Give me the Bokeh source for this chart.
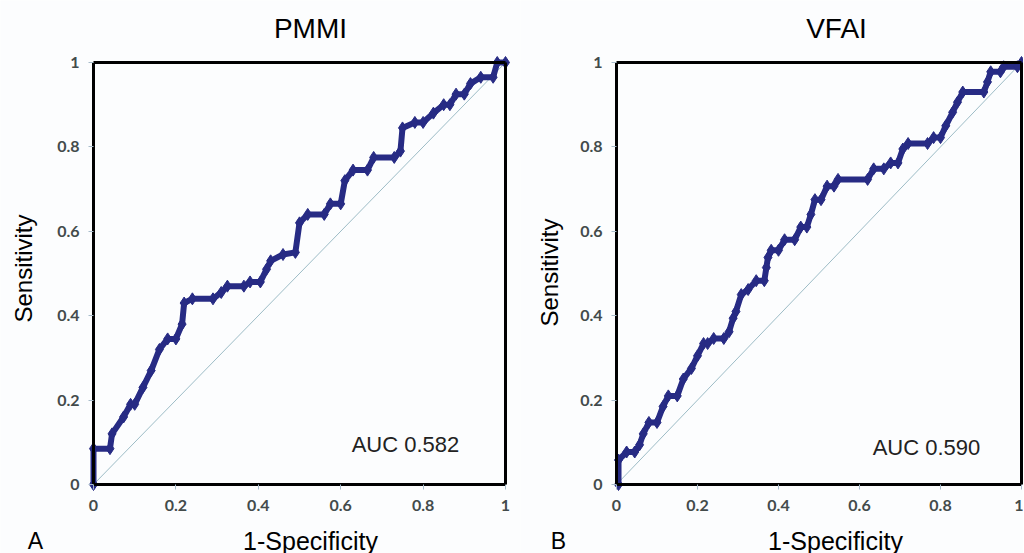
from bokeh.plotting import figure
from bokeh.models import Range1d, FixedTicker, Label, LinearAxis
from bokeh.layouts import row
from bokeh.embed import file_html
from bokeh.resources import INLINE

# ---- data ----
pmmi_fpr = [0, 0, 0.04, 0.045, 0.073, 0.09, 0.10, 0.12, 0.14, 0.16,
            0.18, 0.20, 0.215, 0.22, 0.24, 0.29, 0.31, 0.325, 0.365, 0.38,
            0.405, 0.42, 0.43, 0.46, 0.49, 0.5, 0.52, 0.56, 0.575, 0.60,
            0.61, 0.63, 0.665, 0.68, 0.73, 0.745, 0.75, 0.78, 0.80, 0.825,
            0.85, 0.865, 0.88, 0.90, 0.915, 0.94, 0.97, 0.98, 1.0]
pmmi_tpr = [0, 0.085, 0.085, 0.12, 0.16, 0.19, 0.19, 0.23, 0.27, 0.32,
            0.345, 0.345, 0.38, 0.43, 0.44, 0.44, 0.455, 0.47, 0.47, 0.48,
            0.48, 0.51, 0.53, 0.545, 0.55, 0.62, 0.64, 0.64, 0.665, 0.665,
            0.72, 0.745, 0.745, 0.775, 0.775, 0.79, 0.845, 0.858, 0.858, 0.88,
            0.90, 0.90, 0.925, 0.925, 0.95, 0.965, 0.965, 1.0, 1.0]

vfai_fpr = [0.005, 0.005, 0.025, 0.045, 0.057, 0.066, 0.08, 0.10, 0.115, 0.128,
            0.15, 0.165, 0.185, 0.20, 0.215, 0.225, 0.24, 0.265, 0.278, 0.288,
            0.295, 0.308, 0.325, 0.345, 0.365, 0.37, 0.374, 0.382, 0.40, 0.415,
            0.44, 0.455, 0.47, 0.48, 0.49, 0.505, 0.52, 0.537, 0.547, 0.62,
            0.635, 0.66, 0.677, 0.695, 0.707, 0.72, 0.768, 0.783, 0.80, 0.813,
            0.83, 0.842, 0.855, 0.907, 0.916, 0.924, 0.948, 0.956, 0.99, 1.0]
vfai_tpr = [0, 0.058, 0.077, 0.077, 0.094, 0.12, 0.147, 0.147, 0.185, 0.21,
            0.21, 0.25, 0.275, 0.305, 0.334, 0.334, 0.346, 0.346, 0.362, 0.394,
            0.41, 0.45, 0.462, 0.483, 0.483, 0.514, 0.538, 0.555, 0.555, 0.58,
            0.58, 0.61, 0.61, 0.64, 0.675, 0.675, 0.707, 0.707, 0.723, 0.723,
            0.748, 0.748, 0.762, 0.762, 0.795, 0.808, 0.808, 0.822, 0.822, 0.85,
            0.882, 0.906, 0.93, 0.93, 0.954, 0.978, 0.978, 0.99, 0.99, 1.0]

diag = [0, 1]
tick_values = [0, 0.2, 0.4, 0.6, 0.8, 1.0]
tick_labels = ["0", "0.2", "0.4", "0.6", "0.8", "1"]

BG = "#FCFDFE"
NAVY = "#272B84"
H = 553
Y0_PX, Y1_PX = 484, 62          # page rows of y=0 and y=1


def edge_axis():
    return LinearAxis(fixed_location=1, bounds=(0, 1), ticker=FixedTicker(ticks=[]),
                      axis_line_color="black", axis_line_width=3,
                      major_tick_line_color=None, minor_tick_line_color=None,
                      major_label_text_font_size="0px")


def panel(title, fpr, tpr, auc_text, letter, width, x0_px, x1_px, page_left, pos):
    sx = x1_px - x0_px
    sy = Y0_PX - Y1_PX
    left = x0_px - page_left
    xr = Range1d(-left / sx, (width - left) / sx)
    yr = Range1d(-(H - Y0_PX) / sy, 1 + Y1_PX / sy)
    p = figure(width=width, height=H, output_backend="svg", toolbar_location=None,
               x_range=xr, y_range=yr,
               min_border_left=0, min_border_right=0,
               min_border_top=0, min_border_bottom=0)
    p.background_fill_color = BG
    p.border_fill_color = BG
    p.outline_line_color = None
    p.grid.visible = False

    p.line(diag, diag, line_color="#9DBCC6", line_width=1)
    p.line(fpr, tpr, line_color=NAVY, line_width=6)
    p.scatter(fpr, tpr, marker="diamond", size=12, fill_color=NAVY, line_color=NAVY)

    for ax in (p.xaxis[0], p.yaxis[0]):
        ax.fixed_location = 0
        ax.bounds = (0, 1)
        ax.ticker = FixedTicker(ticks=tick_values)
        ax.major_label_overrides = dict(zip(tick_values, tick_labels))
        ax.axis_line_color = "black"
        ax.axis_line_width = 3
        ax.major_tick_line_color = "#A8BCCB"
        ax.major_tick_in = 0
        ax.major_tick_out = 5
        ax.minor_tick_line_color = None
        ax.major_label_text_font = "Lato"
        ax.major_label_text_font_style = "bold"
        ax.major_label_text_font_size = "16px"
        ax.major_label_text_color = "#434B4B"
    p.xaxis.major_label_standoff = 10
    p.yaxis.major_label_standoff = 9

    # top and right edges of the black box
    p.add_layout(edge_axis(), "above")
    p.add_layout(edge_axis(), "right")

    def dx(px):
        return (px - x0_px) / sx

    def dy(py):
        return (Y0_PX - py) / sy

    def lab(text, px, py, size, color="black", angle=0.0):
        p.add_layout(Label(x=dx(px), y=dy(py), text=text, text_align="center",
                           text_baseline="middle", text_font="Liberation Sans",
                           text_font_size=size, text_color=color, angle=angle))

    lab(title, *pos["title"], "28px")
    lab("1-Specificity", *pos["xlabel"], "25px")
    lab("Sensitivity", *pos["ylabel"], "24px", angle=1.5708)
    lab(auc_text, *pos["auc"], "22px", "#222222")
    lab(letter, *pos["letter"], "23px")
    return p


p1 = panel("PMMI", pmmi_fpr, pmmi_tpr, "AUC 0.582", "A", 520, 93, 505, 0,
           {"title": (310, 28), "xlabel": (310, 540), "ylabel": (23, 268),
            "auc": (405, 444), "letter": (35, 540)})
p2 = panel("VFAI", vfai_fpr, vfai_tpr, "AUC 0.590", "B", 503, 616, 1021, 520,
           {"title": (836, 28), "xlabel": (835, 540), "ylabel": (549, 272),
            "auc": (926, 447), "letter": (558, 540)})

layout = row(p1, p2)
open("out.html", "w").write(file_html(layout, INLINE))
